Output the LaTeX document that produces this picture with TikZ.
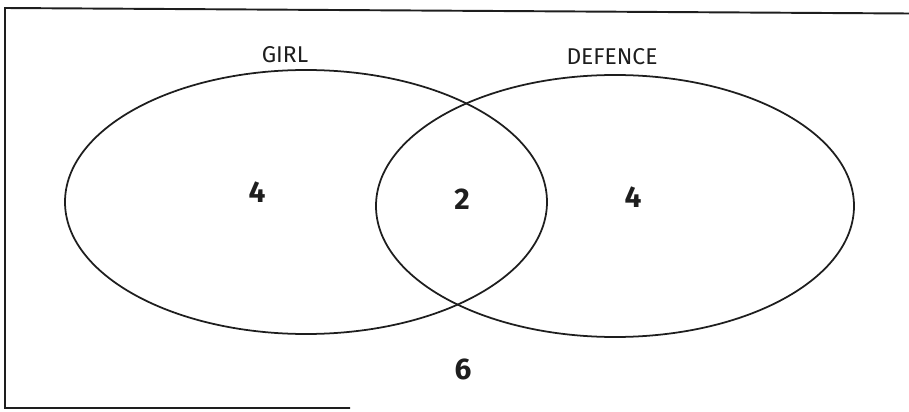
\documentclass[tikz,border=0pt]{standalone}
\usepackage{fontspec}
\setmainfont{Fira Sans}
\usepackage{tikz}
\definecolor{vennline}{RGB}{30,30,30}
\tikzset{
  setlabel/.style={font=\fontsize{13}{15}\selectfont, text=vennline},
  countlabel/.style={font=\fontsize{17}{19}\selectfont\bfseries, text=vennline}
}

\begin{document}
\begin{tikzpicture}
  \useasboundingbox (0,0) rectangle (18.18,8.22);
  % frame
  \draw[vennline, line width=1.1pt] (18.18,7.95) -- (0.10,8.06) -- (0.10,0.06) -- (7.00,0.06);
  % the two sets
  \draw[vennline, line width=1pt] (6.12,4.18) ellipse [x radius=4.82, y radius=2.64];
  \draw[vennline, line width=1pt] (12.30,4.10) ellipse [x radius=4.78, y radius=2.62];
  \node[setlabel] (girl) at (5.70,7.12) {GIRL};
  \node[setlabel] (defence) at (12.24,7.08) {DEFENCE};
  \node[countlabel] (onlygirl) at (5.14,4.38) {4};
  \node[countlabel] (both) at (9.24,4.24) {2};
  \node[countlabel] (onlydefence) at (12.66,4.28) {4};
  \node[countlabel] (neither) at (9.26,0.84) {6};
\end{tikzpicture}
\end{document}
